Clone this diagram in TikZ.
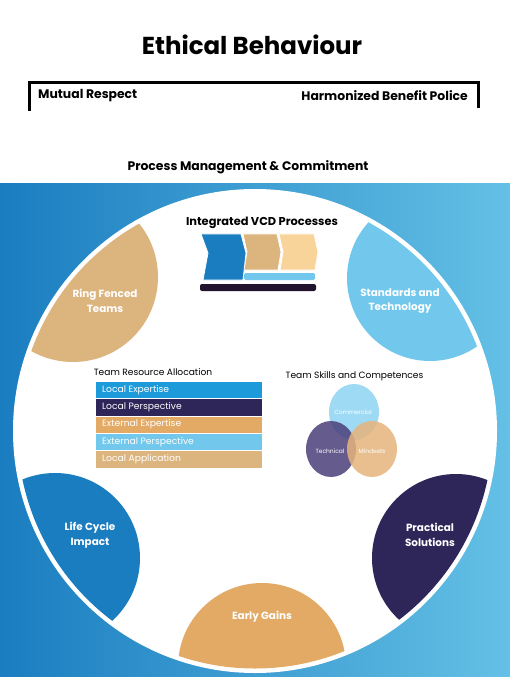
\documentclass[tikz,border=0pt]{standalone}
\usepackage{fontspec}
\setmainfont{Poppins}
\usetikzlibrary{calc}
\definecolor{bandL}{HTML}{1A7DC0}
\definecolor{bandR}{HTML}{64C0E5}
\definecolor{cTan}{HTML}{DCB47E}
\definecolor{cLtan}{HTML}{F9D49A}
\definecolor{cBlue}{HTML}{1A7DC0}
\definecolor{cBright}{HTML}{1D9AD9}
\definecolor{cSky}{HTML}{72C8EC}
\definecolor{cNavy}{HTML}{2E2659}
\definecolor{cOrange}{HTML}{E3AA65}
\definecolor{cDark}{HTML}{22142E}
\definecolor{cComm}{HTML}{8ED4F3}
\definecolor{cTech}{HTML}{4B3F7A}
\definecolor{cMind}{HTML}{E6B47C}
\begin{document}
\begin{tikzpicture}[x=1pt,y=-1pt,
  headtext/.style={font=\fontsize{12.4}{15}\selectfont\bfseries, inner sep=0pt},
  petallabel/.style={text=white, font=\fontsize{10.4}{14.5}\selectfont\bfseries, align=center, inner sep=0pt},
  smalltitle/.style={font=\fontsize{9.1}{11}\selectfont, inner sep=0pt},
  barbox/.style={draw=white, line width=0.5pt},
  bartext/.style={text=white, font=\fontsize{9.2}{11}\selectfont, anchor=west, inner sep=0pt},
  venn/.style={fill opacity=0.85, draw=none},
  venntext/.style={text=white, font=\fontsize{6}{7}\selectfont, inner sep=0pt},
  chev/.style={draw=white, line width=0.8pt, line join=miter}]
\useasboundingbox (0,0) rectangle (510,700);
\fill[white] (0,0) rectangle (510,700);

% header
\node[font=\fontsize{24.5}{28}\selectfont\bfseries, inner sep=0pt] (title) at (252,45) {Ethical Behaviour};
\coordinate (bl) at (29,111);
\coordinate (tl) at (29,83);
\coordinate (tr) at (478,83);
\coordinate (br) at (478,108);
\draw[line width=3pt, line join=miter] (bl) -- (tl) -- (tr) -- (br);
\node[headtext, anchor=west] (mutual) at (38,96) {Mutual Respect};
\node[headtext, anchor=east] (harm) at (468,96) {Harmonized Benefit Police};
\node[headtext] (proc) at (248,167) {Process Management \& Commitment};

% band
\shade[left color=bandL, right color=bandR] (0,184) rectangle (510,676);
\coordinate (c) at (255,431);
\fill[white] (c) circle (242);

% petals
\begin{scope}
\clip (c) circle (237.5);
\fill[cTan] (73,277) circle (85);
\fill[cSky] (430,278) circle (83);
\fill[cBlue] (55,558) circle (85);
\fill[cNavy] (456,558) circle (84);
\fill[cOrange] (262,667) circle (84);
\end{scope}
\node[petallabel] (rf) at (105,301) {Ring Fenced\\Teams};
\node[petallabel] (st) at (400,301) {Standards and\\Technology};
\node[petallabel] (lc) at (90,535) {Life Cycle\\Impact};
\node[petallabel] (ps) at (430,535) {Practical\\Solutions};
\node[petallabel] (eg) at (262,617) {Early Gains};

% VCD processes
\node[font=\fontsize{11.4}{14}\selectfont\bfseries, inner sep=0pt] (vcd) at (262,223) {Integrated VCD Processes};
\fill[cTan, chev] (243,234) -- (277,234) -- (281,252) -- (278,270) -- (244,270) -- (247,252) -- cycle;
\fill[cLtan, chev] (279,234) -- (314,234) -- (318,252) -- (315,270) -- (280,270) -- (283,252) -- cycle;
\fill[cBlue, chev] (201,234) -- (241,234) -- (246,253) -- (243,280) -- (203,280) -- (208,253) -- cycle;
\fill[cSky, rounded corners=1.5pt] (244,273) rectangle (315,280);
\fill[cDark, rounded corners=2pt] (200,284) rectangle (316,291);

% Team Resource Allocation
\node[smalltitle] (tra) at (153,372) {Team Resource Allocation};
\fill[cBright, barbox] (95,381) rectangle (262,398.4);
\fill[cNavy, barbox] (95,398.4) rectangle (262,415.8);
\fill[cOrange, barbox] (95,415.8) rectangle (262,433.2);
\fill[cSky, barbox] (95,433.2) rectangle (262,450.6);
\fill[cTan, barbox] (95,450.6) rectangle (262,468);
\node[bartext] (b1) at (102,389.7) {Local Expertise};
\node[bartext] (b2) at (102,407.1) {Local Perspective};
\node[bartext] (b3) at (102,424.5) {External Expertise};
\node[bartext] (b4) at (102,441.9) {External Perspective};
\node[bartext] (b5) at (102,459.3) {Local Application};

% Team Skills
\node[smalltitle] (tsc) at (354.5,376) {Team Skills and Competences};
\fill[cComm, venn] (354,412) ellipse (25 and 28);
\fill[cTech, venn] (331,449) ellipse (25 and 28);
\fill[cMind, venn] (372,449) ellipse (25 and 28);
\node[venntext] (comm) at (353,412) {Commercial};
\node[venntext] (tech) at (330,451) {Technical};
\node[venntext] (mind) at (372,451) {Mindsets};
\end{tikzpicture}
\end{document}
